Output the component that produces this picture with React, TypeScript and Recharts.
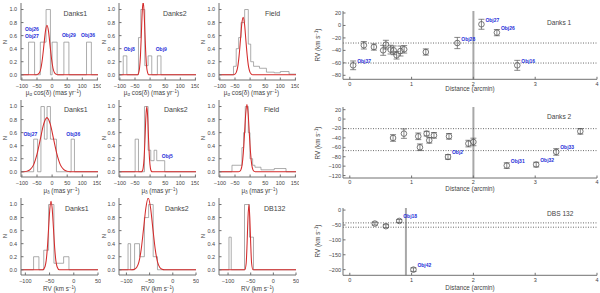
import React from 'react';
import {
  ComposedChart, ScatterChart, Line, Scatter, XAxis, YAxis, ZAxis,
  ErrorBar, ReferenceLine, ReferenceDot,
} from 'recharts';

const FONT = "'Liberation Sans', Arial, Helvetica, sans-serif";
const AX = '#707070';
const TXT = '#444';
const RED = '#d42a2a';
const HIST = '#8a8a8a';
const BLUE = '#1f2fd8';

// ---------- left column histograms (bin start x, normalised N; step) ----------
// Row 1: proper motion in RA
const d1PmraBinX = [-103, -78, -58, -39, -20, -5.6, 0, 16.7, 39, 55.6, 114, 130, 152];
const d1PmraBinN = [0, 0.5, 0, 0.5, 1.0, 0, 0.5, 0, 0.5, 0, 0.5, 0, 0];
const d1PmraFitX = [-103, -52, -47, -42, -37, -32, -27, -22, -17, -12, -7, -2, 3, 8, 13, 18, 152];
const d1PmraFitN = [0, 0, 0.01, 0.03, 0.1, 0.25, 0.46, 0.67, 0.76, 0.67, 0.46, 0.25, 0.1, 0.03, 0.01, 0, 0];
const d1PmraLabels = [
  { x: -66.7, y: 0.70, name: 'Obj26' },
  { x: -66.7, y: 0.585, name: 'Obj27' },
  { x: 55.6, y: 0.6, name: 'Obj29' },
  { x: 119, y: 0.6, name: 'Obj36' },
];

const d2PmraBinX = [-103, -89, -77, -38.5, -30.8, -17.6, -6.6, 5.5, 24, 36, 152];
const d2PmraBinN = [0, 0.29, 0, 0.57, 1.0, 0.14, 0.29, 0, 0.29, 0, 0];
const d2PmraFitX = [-103, -41, -38, -35, -32, -29, -26, -23, -20, -17, -14, -11, -8, -5, 152];
const d2PmraFitN = [0, 0, 0.03, 0.1, 0.29, 0.62, 0.97, 1.12, 0.97, 0.62, 0.29, 0.1, 0.03, 0, 0];
const d2PmraLabels = [
  { x: -69, y: 0.39, name: 'Obj8' },
  { x: 37, y: 0.39, name: 'Obj9' },
];

const fPmraBinX = [-103, -55, -46, -38, -30, -18, -6, 2, 11.5, 31, 54, 80, 100, 129, 152];
const fPmraBinN = [0, 0.13, 0.4, 0.57, 0.8, 1.0, 0.47, 0.2, 0.13, 0.1, 0.04, 0.03, 0.05, 0.01, 0];
const fPmraFitX = [-103, -54.5, -50, -45.5, -41, -36.5, -32, -27.5, -23, -18.5, -14, -9.5, -5, -0.5, 4, 8.5, 152];
const fPmraFitN = [0, 0, 0.01, 0.04, 0.12, 0.29, 0.53, 0.78, 0.88, 0.78, 0.53, 0.29, 0.12, 0.04, 0.01, 0, 0];

// Row 2: proper motion in Dec
const d1PmdBinX = [-103, -61, -48, -37, -25.6, -16.7, -5.6, 14.4, 63, 74, 152];
const d1PmdBinN = [0, 0.5, 0, 1.0, 0.5, 1.0, 0.5, 0, 0.5, 0, 0];
const d1PmdFitX = [-103, -94, -83, -72, -61, -50, -39, -28, -17, -6, 5, 16, 27, 38, 49, 60, 152];
const d1PmdFitN = [0, 0, 0.01, 0.036, 0.11, 0.27, 0.5, 0.73, 0.83, 0.73, 0.5, 0.27, 0.11, 0.036, 0.01, 0, 0];
const d1PmdLabels = [
  { x: -72, y: 0.58, name: 'Obj27' },
  { x: 70, y: 0.58, name: 'Obj36' },
];

const d2PmdBinX = [-103, -49.5, -38.5, -18.7, -6.6, 2.2, 13.2, 22, 48.4, 152];
const d2PmdBinN = [0, 0.5, 0, 1.0, 0.33, 0.17, 0.33, 0.17, 0, 0];
const d2PmdFitX = [-103, -29, -26, -23, -20, -17, -14, -11, -8, -5, -2, 1, 4, 7, 152];
const d2PmdFitN = [0, 0, 0.01, 0.056, 0.2, 0.49, 0.84, 1.0, 0.84, 0.49, 0.2, 0.056, 0.01, 0, 0];
const d2PmdLabels = [{ x: 57, y: 0.24, name: 'Obj5' }];

const fPmdBinX = [-103, -60, -27, -21.5, -16, -6, -0.4, 8.4, 16, 36, 80, 119, 152];
const fPmdBinN = [0, 0.1, 0.37, 0.6, 1.0, 0.6, 0.2, 0.1, 0.07, 0.03, 0.05, 0, 0];
const fPmdFitX = [-103, -38.5, -34.5, -30.5, -26.5, -22.5, -18.5, -14.5, -10.5, -6.5, -2.5, 1.5, 5.5, 9.5, 13.5, 17.5, 152];
const fPmdFitN = [0, 0, 0.006, 0.03, 0.106, 0.29, 0.58, 0.89, 1.03, 0.89, 0.58, 0.29, 0.106, 0.03, 0.006, 0, 0];

// Row 3: radial velocity
const d1RvBinX = [-109, -83, -72, -62, -52, -41, -21, -10, 50];
const d1RvBinN = [0, 0.2, 0, 0.3, 1.0, 0.1, 0.2, 0, 0];
const d1RvFitX = [-109, -64, -59.5, -57, -54.5, -52, -49.5, -47, -44.5, -42, -39.5, -37, -34.5, -30, 50];
const d1RvFitN = [0, 0, 0.046, 0.14, 0.34, 0.64, 0.93, 1.05, 0.93, 0.64, 0.34, 0.14, 0.046, 0, 0];

const d2RvBinX = [-116, -96.5, -91, -82.4, -71.8, -61.3, -52.1, -42.3, -33.1, 50];
const d2RvBinN = [0, 0.4, 0, 0.4, 0.2, 0.8, 1.0, 0.2, 0, 0];
const d2RvFitX = [-116, -88, -83, -78, -73, -68, -63, -58, -53, -48, -43, -38, -33, -28, -23, -18, 50];
const d2RvFitN = [0, 0, 0.008, 0.035, 0.12, 0.32, 0.63, 0.95, 1.1, 0.95, 0.63, 0.32, 0.12, 0.035, 0.008, 0, 0];

const dbRvBinX = [-120, -98, -93, -63.7, -52.7, -43.9, 50];
const dbRvBinN = [0, 0.5, 0, 1.0, 0.5, 0, 0];
const dbRvFitX = [-120, -63, -60, -58, -56, -54, -52, -50, -48, -45, 50];
const dbRvFitN = [0, 0, 0.1, 0.4, 0.8, 1.0, 0.8, 0.4, 0.1, 0, 0];

const pmTicks = [-100, -50, 0, 50, 100, 150];
const rvTicks = [-100, -50, 0, 50];
const nTicks = [0, 0.2, 0.4, 0.6, 0.8, 1.0];

// ---------- right column: RV vs distance ----------
const dk1Dist = [0.054, 0.227, 0.39, 0.54, 0.584, 0.66, 0.71, 0.757, 0.82, 0.88, 1.23, 1.74, 2.13, 2.38, 2.71];
const dk1Rv = [-64, -31.8, -34.6, -39.9, -30.8, -38.8, -39.9, -47.9, -41, -38.3, -42.6, -28.2, 1.9, -11.5, -64];
const dk1Err = [7, 6, 5, 8, 7, 7, 7, 6, 8, 6, 5, 9, 8, 5, 8];
const dk1Names = ['Obj37', '', '', '', '', '', '', '', '', '', '', 'Obj28', 'Obj27', 'Obj26', 'Obj16'];
const dk1Lines = [-28.2, -60.3];

const dk2Dist = [0.70, 0.876, 1.108, 1.135, 1.243, 1.286, 1.362, 1.605, 1.589, 1.919, 2.0, 2.54, 3.016, 3.34, 3.73];
const dk2Rv = [-40.1, -30.9, -36.6, -59.9, -30.9, -45.1, -34.5, -36.6, -80.4, -52.1, -48.6, -98.8, -96.7, -69.8, -26];
const dk2Err = [7, 10, 7, 7, 5, 6, 6, 6, 5, 7, 8, 6, 5, 7, 6];
const dk2Names = ['', '', '', '', '', '', '', '', 'Obj2', '', '', 'Obj31', 'Obj32', 'Obj33', ''];
const dk2Lines = [-20.3, -67];

const dbsDist = [0.405, 0.584, 0.80, 1.03];
const dbsRv = [-45.3, -54, -36.5, -200];
const dbsErr = [5, 5, 5, 6];
const dbsNames = ['', '', 'Obj18', 'Obj42'];
const dbsLines = [-43, -57.5];

const distTicks = [0, 1, 2, 3, 4];

const minus = (v: number) => String(v).replace('-', '\u2212');
const tickStyle = { fontSize: 5.5, fill: TXT, fontFamily: FONT };

function HistPanel(p: any) {
  const ML = 20, MT = 3, MR = 3, MB = 20;
  const hist = p.hx.map((x: number, i: number) => ({ x, n: p.hn[i] }));
  const fit = p.fx.map((x: number, i: number) => ({ x, n: p.fy[i] }));
  const yd = [-0.08, 1.1];
  return (
    <div style={{ position: 'absolute', left: p.left - ML, top: p.top - MT }}>
      <ComposedChart width={p.w + ML + MR} height={p.h + MT + MB} margin={{ top: MT, right: MR, bottom: 0, left: 0 }}>
        <XAxis type="number" dataKey="x" domain={p.xd} ticks={p.xt} allowDataOverflow interval={0}
          height={MB} stroke={AX} tickSize={-2.5} tickMargin={6.5} tick={tickStyle} tickFormatter={minus} />
        <XAxis xAxisId="t" orientation="top" type="number" dataKey="x" domain={p.xd} ticks={p.xt} allowDataOverflow
          interval={0} height={0} stroke={AX} tickSize={-2.5} tick={false} />
        <YAxis type="number" domain={yd} ticks={nTicks} allowDataOverflow interval={0} width={ML}
          stroke={AX} tickSize={-2.5} tickMargin={6.3} tick={tickStyle} tickFormatter={(v: number) => v.toFixed(1)} />
        <YAxis yAxisId="r" orientation="right" type="number" domain={yd} ticks={nTicks} allowDataOverflow interval={0}
          width={0} stroke={AX} tickSize={-2.5} tick={false} />
        <Line data={hist} dataKey="n" type="stepAfter" stroke={HIST} strokeWidth={0.7} dot={false} isAnimationActive={false} />
        <Line data={fit} dataKey="n" type="monotone" stroke={RED} strokeWidth={1.05} dot={false} isAnimationActive={false} />
        {(p.labels || []).map((l: any) => (
          <ReferenceDot key={l.name + l.x} x={l.x} y={l.y} r={0} stroke="none" fill="none"
            label={{ value: l.name, position: 'center', fill: BLUE, fontSize: 5, fontWeight: 'bold', fontFamily: FONT }} />
        ))}
      </ComposedChart>
    </div>
  );
}

const renderPt = (props: any) => {
  const { cx, cy, payload } = props;
  return (
    <g>
      <circle cx={cx} cy={cy} r={2.8} fill="none" stroke="#555" strokeWidth={0.8} />
      {payload && payload.name ? (
        <text x={cx + 4} y={cy - 2.5} fontSize={5} fontWeight="bold" fill={BLUE} fontFamily={FONT}>{payload.name}</text>
      ) : null}
    </g>
  );
};

function RvPanel(p: any) {
  const ML = 25, MT = 3, MR = 3, MB = 14, PW = 254, PL = 343;
  const data = p.dist.map((d: number, i: number) => ({ d, rv: p.rv[i], err: p.err[i], name: p.names[i] }));
  const xd = [-0.11, 4];
  return (
    <div style={{ position: 'absolute', left: PL - ML, top: p.top - MT }}>
      <ScatterChart width={PW + ML + MR} height={p.h + MT + MB} margin={{ top: MT, right: MR, bottom: 0, left: 0 }}>
        <XAxis type="number" dataKey="d" domain={xd} ticks={distTicks} allowDataOverflow interval={0}
          height={MB} stroke={AX} tickSize={-2.5} tickMargin={5} tick={tickStyle} />
        <XAxis xAxisId="t" orientation="top" type="number" dataKey="d" domain={xd} ticks={distTicks} allowDataOverflow
          interval={0} height={0} stroke={AX} tickSize={-2.5} tick={false} />
        <YAxis type="number" dataKey="rv" domain={p.yd} ticks={p.yt} allowDataOverflow interval={0} width={ML}
          stroke={AX} tickSize={-2.5} tickMargin={4.5} tick={tickStyle} tickFormatter={minus} />
        <YAxis yAxisId="r" orientation="right" type="number" dataKey="rv" domain={p.yd} ticks={p.yt} allowDataOverflow
          interval={0} width={0} stroke={AX} tickSize={-2.5} tick={false} />
        <ZAxis range={[28, 28]} />
        <ReferenceLine x={p.vline} stroke="#a8a8a8" strokeWidth={2} />
        {p.hlines.map((y: number) => (
          <ReferenceLine key={y} y={y} stroke="#444" strokeWidth={0.8} strokeDasharray="1 1.5" />
        ))}
        <Scatter data={data} isAnimationActive={false} shape={renderPt}>
          <ErrorBar dataKey="err" direction="y" width={3} stroke="#555" strokeWidth={0.7} />
        </Scatter>
      </ScatterChart>
    </div>
  );
}

function T(p: any) {
  const tx = p.anchor === 'start' ? '0' : p.anchor === 'end' ? '-100%' : '-50%';
  return (
    <div style={{
      position: 'absolute', left: p.x, top: p.y, whiteSpace: 'nowrap', lineHeight: 1,
      transform: `translate(${tx},-50%)` + (p.rot ? ` rotate(${p.rot}deg)` : ''),
      fontSize: p.size || 6.3, color: p.color || TXT, fontFamily: FONT,
    }}>{p.children}</div>
  );
}

const sub = { fontSize: '0.7em', verticalAlign: '-0.3em' };
const sup = { fontSize: '0.7em', verticalAlign: '0.45em' };

const PMA = <>μ<span style={sub}>α</span> cos(δ) (mas yr<span style={sup}>−1</span>)</>;
const PMD = <>μ<span style={sub}>δ</span> (mas yr<span style={sup}>−1</span>)</>;
const RVT = <>RV (km s<span style={sup}>−1</span>)</>;

export default function App() {
  const lefts = [21, 119, 219];
  const tops = [3, 99.5, 197.5];
  const W = 77, H = 77;
  const pmD = [-103, 152];
  return (
    <div style={{ position: 'absolute', left: 0, top: 0, width: 600, height: 293, background: '#fff', overflow: 'hidden' }}>
      <HistPanel left={lefts[0]} top={tops[0]} w={W} h={H} xd={pmD} xt={pmTicks} hx={d1PmraBinX} hn={d1PmraBinN} fx={d1PmraFitX} fy={d1PmraFitN} labels={d1PmraLabels} />
      <HistPanel left={lefts[1]} top={tops[0]} w={W} h={H} xd={pmD} xt={pmTicks} hx={d2PmraBinX} hn={d2PmraBinN} fx={d2PmraFitX} fy={d2PmraFitN} labels={d2PmraLabels} />
      <HistPanel left={lefts[2]} top={tops[0]} w={W} h={H} xd={pmD} xt={pmTicks} hx={fPmraBinX} hn={fPmraBinN} fx={fPmraFitX} fy={fPmraFitN} />
      <HistPanel left={lefts[0]} top={tops[1]} w={W} h={H} xd={pmD} xt={pmTicks} hx={d1PmdBinX} hn={d1PmdBinN} fx={d1PmdFitX} fy={d1PmdFitN} labels={d1PmdLabels} />
      <HistPanel left={lefts[1]} top={tops[1]} w={W} h={H} xd={pmD} xt={pmTicks} hx={d2PmdBinX} hn={d2PmdBinN} fx={d2PmdFitX} fy={d2PmdFitN} labels={d2PmdLabels} />
      <HistPanel left={lefts[2]} top={tops[1]} w={W} h={H} xd={pmD} xt={pmTicks} hx={fPmdBinX} hn={fPmdBinN} fx={fPmdFitX} fy={fPmdFitN} />
      <HistPanel left={lefts[0]} top={tops[2]} w={W} h={H} xd={[-109, 50]} xt={rvTicks} hx={d1RvBinX} hn={d1RvBinN} fx={d1RvFitX} fy={d1RvFitN} />
      <HistPanel left={lefts[1]} top={tops[2]} w={W} h={H} xd={[-116, 50]} xt={rvTicks} hx={d2RvBinX} hn={d2RvBinN} fx={d2RvFitX} fy={d2RvFitN} />
      <HistPanel left={lefts[2]} top={tops[2]} w={W} h={H} xd={[-120, 50]} xt={rvTicks} hx={dbRvBinX} hn={dbRvBinN} fx={dbRvFitX} fy={dbRvFitN} />

      <RvPanel top={10.7} h={68.3} yd={[-86.4, 23.2]} yt={[20, 0, -20, -40, -60, -80]} dist={dk1Dist} rv={dk1Rv} err={dk1Err} names={dk1Names} vline={2} hlines={dk1Lines} />
      <RvPanel top={107.3} h={71} yd={[-125.2, 25.7]} yt={[20, 0, -20, -40, -60, -80, -100, -120]} dist={dk2Dist} rv={dk2Rv} err={dk2Err} names={dk2Names} vline={2} hlines={dk2Lines} />
      <RvPanel top={207.7} h={67.3} yd={[-219, 7]} yt={[0, -50, -100, -150, -200]} dist={dbsDist} rv={dbsRv} err={dbsErr} names={dbsNames} vline={0.908} hlines={dbsLines} />

      {/* left panel names */}
      <T x={63.5} y={13.3} anchor="start" size={7}>Danks1</T>
      <T x={163} y={13.3} anchor="start" size={7}>Danks2</T>
      <T x={265} y={12.7} anchor="start" size={7}>Field</T>
      <T x={64} y={109} anchor="start" size={7}>Danks1</T>
      <T x={164} y={109} anchor="start" size={7}>Danks2</T>
      <T x={264} y={109} anchor="start" size={7}>Field</T>
      <T x={65} y={208.3} anchor="start" size={7}>Danks1</T>
      <T x={165} y={208.3} anchor="start" size={7}>Danks2</T>
      <T x={264} y={208.3} anchor="start" size={7}>DB132</T>

      {/* N labels */}
      {[4.5, 103.5, 203].map((x) => [41.5, 138, 236].map((y) => (
        <T key={`${x}-${y}`} x={x} y={y} rot={-90} size={6}>N</T>
      )))}

      {/* left x titles */}
      {[53.5, 151.5, 251.5].map((x) => <T key={'a' + x} x={x} y={94.3}>{PMA}</T>)}
      {[61.5, 159.5, 259.5].map((x) => <T key={'d' + x} x={x} y={192.3}>{PMD}</T>)}
      {[59.5, 157.5, 257.5].map((x) => <T key={'r' + x} x={x} y={289}>{RVT}</T>)}

      {/* right titles */}
      {[45, 143, 241].map((y) => <T key={'rv' + y} x={318} y={y} rot={-90}>{RVT}</T>)}
      {[89.3, 189.3, 288.3].map((y) => <T key={'ds' + y} x={470} y={y}>Distance (arcmin)</T>)}
      <T x={547} y={23.3} anchor="start" size={6.6}>Danks 1</T>
      <T x={547} y={116.7} anchor="start" size={6.6}>Danks 2</T>
      <T x={547} y={214.3} anchor="start" size={6.6}>DBS 132</T>
    </div>
  );
}
